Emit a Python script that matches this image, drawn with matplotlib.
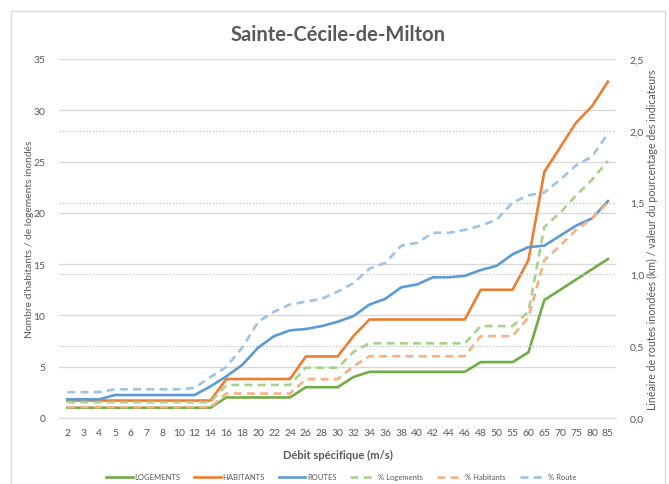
import matplotlib.pyplot as plt
from matplotlib.patches import Rectangle

plt.rcParams['font.family'] = ['Lato', 'DejaVu Sans']

debits = ['2', '3', '4', '5', '6', '7', '8', '10', '12', '14', '16', '18', '20', '22', '24',
          '26', '28', '30', '32', '34', '36', '38', '40', '42', '44', '46', '48', '50',
          '55', '60', '65', '70', '75', '80', '85']

# axe principal (nombre)
logements = [1, 1, 1, 1, 1, 1, 1, 1, 1, 1, 2, 2, 2, 2, 2, 3, 3, 3, 4, 4.5, 4.5, 4.5, 4.5,
             4.5, 4.5, 4.5, 5.45, 5.45, 5.45, 6.4, 11.5, 12.5, 13.5, 14.5, 15.5]
habitants = [1.7, 1.7, 1.7, 1.7, 1.7, 1.7, 1.7, 1.7, 1.7, 1.7, 3.8, 3.8, 3.8, 3.8, 3.8,
             6, 6, 6, 8, 9.6, 9.6, 9.6, 9.6, 9.6, 9.6, 9.6, 12.5, 12.5, 12.5, 15.4, 24,
             26.4, 28.8, 30.4, 32.8]

# axe secondaire (km / pourcentage)
routes = [0.13, 0.13, 0.13, 0.16, 0.16, 0.16, 0.16, 0.16, 0.16, 0.22, 0.29, 0.37, 0.49,
          0.57, 0.61, 0.62, 0.64, 0.67, 0.71, 0.79, 0.83, 0.91, 0.93, 0.98, 0.98, 0.99,
          1.03, 1.06, 1.14, 1.19, 1.20, 1.27, 1.34, 1.39, 1.51]
pct_logements = [0.11, 0.11, 0.11, 0.11, 0.11, 0.11, 0.11, 0.11, 0.11, 0.11, 0.23, 0.23,
                 0.23, 0.23, 0.23, 0.35, 0.35, 0.35, 0.46, 0.52, 0.52, 0.52, 0.52, 0.52,
                 0.52, 0.52, 0.64, 0.64, 0.64, 0.74, 1.33, 1.43, 1.55, 1.66, 1.79]
pct_habitants = [0.075, 0.075, 0.075, 0.075, 0.075, 0.075, 0.075, 0.075, 0.075, 0.075,
                 0.17, 0.17, 0.17, 0.17, 0.17, 0.27, 0.27, 0.27, 0.36, 0.43, 0.43, 0.43,
                 0.43, 0.43, 0.43, 0.43, 0.57, 0.57, 0.57, 0.70, 1.10, 1.20, 1.31, 1.39, 1.50]
pct_route = [0.18, 0.18, 0.18, 0.20, 0.20, 0.20, 0.20, 0.20, 0.21, 0.285, 0.355, 0.49,
             0.67, 0.74, 0.79, 0.81, 0.83, 0.88, 0.94, 1.04, 1.08, 1.20, 1.22, 1.29, 1.29,
             1.31, 1.34, 1.38, 1.50, 1.55, 1.57, 1.66, 1.76, 1.82, 1.98]

gris = '#595959'
x = range(len(debits))

fig = plt.figure(figsize=(6.69, 4.85), dpi=100)
fig.patches.append(Rectangle((11 / 669, -0.1), 654 / 669, 1.1 - 12 / 485,
                             transform=fig.transFigure, fill=False,
                             edgecolor='#d9d9d9', lw=1))
ax = fig.add_axes([0.0888, 0.1361, 0.8318, 0.7402])
ax2 = ax.twinx()

lw = 1.9
l1, = ax.plot(x, logements, color='#70ad47', lw=lw, label='LOGEMENTS')
l2, = ax.plot(x, habitants, color='#ed7d31', lw=lw, label='HABITANTS')
l3, = ax2.plot(x, routes, color='#5b9bd5', lw=lw, label='ROUTES')
l4, = ax2.plot(x, pct_logements, color='#a9d18e', lw=lw, ls=(0, (3, 2)), label='% Logements')
l5, = ax2.plot(x, pct_habitants, color='#f4b183', lw=lw, ls=(0, (3, 2)), label='% Habitants')
l6, = ax2.plot(x, pct_route, color='#9dc3e6', lw=lw, ls=(0, (3, 2)), label='% Route')

ax.set_xlim(-0.5, len(debits) - 0.5)
ax.set_ylim(0, 35)
ax.set_yticks(range(0, 36, 5))
ax2.set_ylim(0, 2.5)
sec_ticks = [0, 0.5, 1.0, 1.5, 2.0, 2.5]
ax2.set_yticks(sec_ticks)
ax2.set_yticklabels(['0,0', '0,5', '1,0', '1,5', '2,0', '2,5'])
ax.set_xticks(list(x))
ax.set_xticklabels(debits)

ax.grid(axis='y', color='#d9d9d9', lw=1)
ax.set_axisbelow(True)
# quadrillage secondaire en pointillé
for t in sec_ticks[1:-1]:
    ax2.axhline(t, color='#c8c8c8', lw=0.8, ls=(0, (1.5, 1.5)), zorder=0)
for a in (ax, ax2):
    for s in ['top', 'left', 'right']:
        a.spines[s].set_visible(False)
    a.spines['bottom'].set_color('#d9d9d9')
    a.tick_params(length=0, labelsize=7.5, labelcolor=gris)
ax2.spines['bottom'].set_visible(False)
ax.tick_params(axis='y', pad=10)
ax2.tick_params(axis='y', pad=10)
ax.tick_params(axis='x', pad=7)

ax.set_ylabel("Nombre d'habitants / de logements inondés", color=gris, fontsize=7.4, labelpad=0)
ax2.set_ylabel('Linéaire de routes inondées (km) / valeur du pourcentage des indicateurs',
               color=gris, fontsize=7.7, labelpad=2)
ax.set_xlabel('Débit spécifique (m/s)', color=gris, fontsize=8, fontweight='bold', labelpad=9)
ax.set_title('Sainte-Cécile-de-Milton', color=gris, fontsize=14.5, fontweight='bold', pad=14)

fig.legend(handles=[l1, l2, l3, l4, l5, l6], loc='center', bbox_to_anchor=(0.51, 0.015),
           ncol=6, frameon=False, fontsize=5.5, labelcolor=gris, handlelength=3.5,
           columnspacing=1.8, handletextpad=0.2)

fig.savefig('out.png', dpi=100)
